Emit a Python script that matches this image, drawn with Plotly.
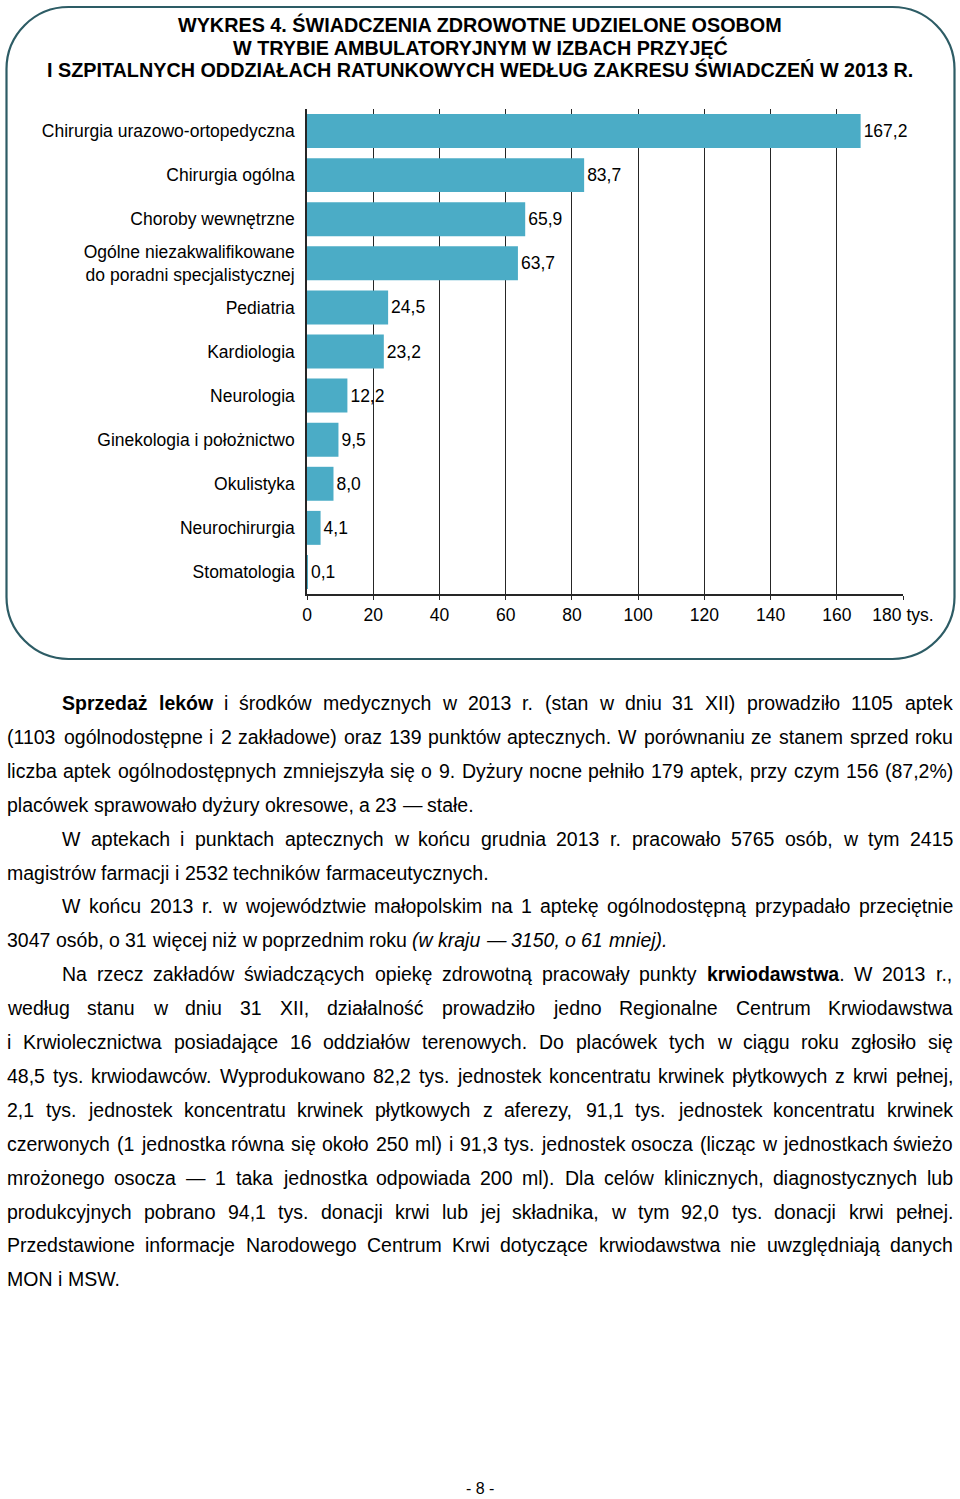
import plotly.graph_objects as go

W, H = 960, 1499

# ---------------- chart data ----------------
categories = [
    "Chirurgia urazowo-ortopedyczna",
    "Chirurgia ogólna",
    "Choroby wewnętrzne",
    "Ogólne niezakwalifikowane<br>do poradni specjalistycznej",
    "Pediatria",
    "Kardiologia",
    "Neurologia",
    "Ginekologia i położnictwo",
    "Okulistyka",
    "Neurochirurgia",
    "Stomatologia",
]
values = [167.2, 83.7, 65.9, 63.7, 24.5, 23.2, 12.2, 9.5, 8.0, 4.1, 0.1]
tick_vals = [0, 20, 40, 60, 80, 100, 120, 140, 160, 180]
tick_text = ["0", "20", "40", "60", "80", "100", "120", "140", "160", "180 tys."]

title_lines = [
    "WYKRES 4. ŚWIADCZENIA ZDROWOTNE UDZIELONE OSOBOM",
    "W TRYBIE AMBULATORYJNYM W IZBACH PRZYJĘĆ",
    "I SZPITALNYCH ODDZIAŁACH RATUNKOWYCH WEDŁUG ZAKRESU ŚWIADCZEŃ W 2013 R.",
]

# paragraph lines: (indent?, justified?, segments)
para_lines = [
    (True, True, [("Sprzedaż leków", "b"), (" i środków medycznych w 2013 r. (stan w dniu 31 XII) prowadziło 1105 aptek", "")]),
    (False, True, [("(1103 ogólnodostępne i 2 zakładowe) oraz 139 punktów aptecznych. W porównaniu ze stanem sprzed roku", "")]),
    (False, True, [("liczba aptek ogólnodostępnych zmniejszyła się o 9. Dyżury nocne pełniło 179 aptek, przy czym 156 (87,2%)", "")]),
    (False, False, [("placówek sprawowało dyżury okresowe, a 23 — stałe.", "")]),
    (True, True, [("W aptekach i punktach aptecznych w końcu grudnia 2013 r. pracowało 5765 osób, w tym 2415", "")]),
    (False, False, [("magistrów farmacji i 2532 techników farmaceutycznych.", "")]),
    (True, True, [("W końcu 2013 r. w województwie małopolskim na 1 aptekę ogólnodostępną przypadało przeciętnie", "")]),
    (False, False, [("3047 osób, o 31 więcej niż w poprzednim roku ", ""), ("(w kraju — 3150, o 61 mniej).", "i")]),
    (True, True, [("Na rzecz zakładów świadczących opiekę zdrowotną pracowały punkty ", ""), ("krwiodawstwa", "b"), (". W 2013 r.,", "")]),
    (False, True, [("według stanu w dniu 31 XII, działalność prowadziło jedno Regionalne Centrum Krwiodawstwa", "")]),
    (False, True, [("i Krwiolecznictwa posiadające 16 oddziałów terenowych. Do placówek tych w ciągu roku zgłosiło się", "")]),
    (False, True, [("48,5 tys. krwiodawców. Wyprodukowano 82,2 tys. jednostek koncentratu krwinek płytkowych z krwi pełnej,", "")]),
    (False, True, [("2,1 tys. jednostek koncentratu krwinek płytkowych z aferezy, 91,1 tys. jednostek koncentratu krwinek", "")]),
    (False, True, [("czerwonych (1 jednostka równa się około 250 ml) i 91,3 tys. jednostek osocza (licząc w jednostkach świeżo", "")]),
    (False, True, [("mrożonego osocza — 1 taka jednostka odpowiada 200 ml). Dla celów klinicznych, diagnostycznych lub", "")]),
    (False, True, [("produkcyjnych pobrano 94,1 tys. donacji krwi lub jej składnika, w tym 92,0 tys. donacji krwi pełnej.", "")]),
    (False, True, [("Przedstawione informacje Narodowego Centrum Krwi dotyczące krwiodawstwa nie uwzględniają danych", "")]),
    (False, False, [("MON i MSW.", "")]),
]
page_number = "- 8 -"

# ---------------- helpers ----------------
FONT = "Liberation Sans, Arial, Helvetica, sans-serif"
CFS = 17.5  # chart font size


def px(x):
    return x / W


def py(y):
    return 1 - y / H


def P(x, y):
    return f"{px(x):.6f},{py(y):.6f}"


def build_table(groups):
    t = {}
    for chars, w in groups:
        for c in chars:
            t[c] = w
    return t


REG = build_table([
    (" ,./:;!ft", 278), ("()-r", 333), ("0123456789", 556),
    ("abdeghnopquąęńó", 556), ("cksvxyzćśźż", 500), ("ijlł", 222),
    ("m", 833), ("w", 722), ("%", 889), ("—", 1000),
    ("ABEKPSVXYŚĄĘ", 667), ("CDHNRUĆŃ", 722), ("FTZŻŹ", 611), ("GOQ", 778),
    ("I", 278), ("J", 500), ("LŁ", 556), ("M", 833), ("W", 944),
])
BOLD = build_table([
    (" ,./:;!i", 278), ("ijlł", 278), ("()-ft", 333), ("0123456789", 556),
    ("aceksvxyąęćś", 556), ("bdghnopquńó", 611), ("r", 389), ("zżź", 500),
    ("m", 889), ("w", 778), ("S", 667),
])

FS = 19.5
LEFT, INDENT, RIGHT = 7, 62, 953
Y0, DY = 703, 33.9


def seg_w(text, st):
    tab = BOLD if st == "b" else REG
    return sum(tab.get(c, 556) for c in text) * FS / 1000


def markup(text, st):
    if st == "b":
        return f"<b>{text}</b>"
    if st == "i":
        return f"<i>{text}</i>"
    return text


annotations = []

# title
for i, (line, yc) in enumerate(zip(title_lines, [25, 47.5, 69.5])):
    annotations.append(dict(
        x=px(480), y=py(yc), xref="paper", yref="paper", text=f"<b>{line}</b>",
        showarrow=False, xanchor="center", yanchor="middle",
        font=dict(family=FONT, size=19.8, color="#000"), borderpad=0,
    ))

# paragraph, word by word (justified)
for li, (indent, justified, segs) in enumerate(para_lines):
    words = [[]]
    for text, st in segs:
        parts = text.split(" ")
        for k, p in enumerate(parts):
            if k > 0:
                words.append([])
            if p:
                words[-1].append((p, st))
    words = [w for w in words if w]
    widths = [sum(seg_w(t, s) for t, s in w) for w in words]
    x_start = INDENT if indent else LEFT
    space = REG[" "] * FS / 1000
    if justified and len(words) > 1:
        gap = (RIGHT - x_start - sum(widths)) / (len(words) - 1)
    else:
        gap = space
    yc = Y0 + li * DY
    x = x_start
    for w, wd in zip(words, widths):
        annotations.append(dict(
            x=px(x), y=py(yc), xref="paper", yref="paper",
            text="".join(markup(t, s) for t, s in w),
            showarrow=False, xanchor="left", yanchor="middle", align="left",
            font=dict(family=FONT, size=FS, color="#000"), borderpad=0, borderwidth=0,
        ))
        x += wd + gap

annotations.append(dict(
    x=px(480), y=py(1488), xref="paper", yref="paper", text=page_number,
    showarrow=False, xanchor="center", yanchor="middle",
    font=dict(family=FONT, size=16, color="#000"), borderpad=0,
))

# rounded frame
def rounded_rect(x0, y0, x1, y1, r):
    k = 0.5523 * r
    return (
        f"M {P(x0 + r, y0)} L {P(x1 - r, y0)} "
        f"C {P(x1 - r + k, y0)} {P(x1, y0 + r - k)} {P(x1, y0 + r)} "
        f"L {P(x1, y1 - r)} "
        f"C {P(x1, y1 - r + k)} {P(x1 - r + k, y1)} {P(x1 - r, y1)} "
        f"L {P(x0 + r, y1)} "
        f"C {P(x0 + r - k, y1)} {P(x0, y1 - r + k)} {P(x0, y1 - r)} "
        f"L {P(x0, y0 + r)} "
        f"C {P(x0, y0 + r - k)} {P(x0 + r - k, y0)} {P(x0 + r, y0)} Z"
    )


shapes = [dict(
    type="path", xref="paper", yref="paper",
    path=rounded_rect(6.5, 7, 954.5, 659, 62),
    line=dict(color="#2d5c65", width=2.2), fillcolor="rgba(0,0,0,0)", layer="below",
)]

fig = go.Figure(go.Bar(
    y=categories, x=values, orientation="h",
    marker=dict(color="#4bacc6", line=dict(width=0)),
    texttemplate="%{x:.1f}", textposition="outside", cliponaxis=False,
    constraintext="none",
    textfont=dict(family=FONT, size=CFS, color="#000"),
    hoverinfo="skip",
))

fig.update_layout(
    width=W, height=H, autosize=False,
    margin=dict(l=0, r=0, t=0, b=0, autoexpand=False),
    paper_bgcolor="white", plot_bgcolor="white",
    separators=", ",
    bargap=0.23,
    showlegend=False,
    font=dict(family=FONT, size=CFS, color="#000"),
    xaxis=dict(
        domain=[px(307), px(903)], range=[0, 180], automargin=False,
        tickvals=tick_vals, ticktext=tick_text,
        showgrid=True, gridcolor="#262626", gridwidth=1.3,
        zeroline=False, showline=True, linecolor="#262626", linewidth=1.5,
        ticks="outside", ticklen=4, tickcolor="#262626", tickwidth=1.3,
        tickfont=dict(family=FONT, size=CFS, color="#000"),
        fixedrange=True,
    ),
    yaxis=dict(
        domain=[py(594), py(109)], range=[10.5, -0.5], automargin=False,
        type="category",
        showgrid=False, zeroline=False, showline=True, linecolor="#262626", linewidth=1.5,
        ticks="", ticklabelstandoff=7,
        tickfont=dict(family=FONT, size=CFS, color="#000"),
        fixedrange=True,
    ),
    annotations=annotations,
    shapes=shapes,
)

fig.write_html("out.html", config={"displayModeBar": False})
